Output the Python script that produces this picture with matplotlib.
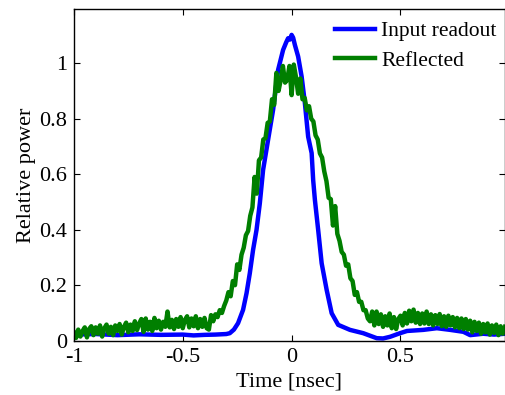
import matplotlib

matplotlib.use("Agg")
import matplotlib.pyplot as plt

# time axis [nsec] and relative power
blue_t = [-1.00, -0.90, -0.80, -0.70, -0.60, -0.50, -0.45, -0.40, -0.35, -0.30,
          -0.284, -0.265, -0.246, -0.223, -0.207, -0.192, -0.177, -0.161, -0.146, -0.131,
          -0.108, -0.085, -0.062, -0.039, -0.025, -0.016, -0.008, 0.000, 0.007, 0.015,
          0.030, 0.046, 0.061, 0.076, 0.092, 0.099, 0.107, 0.122, 0.138, 0.161,
          0.184, 0.214, 0.268, 0.329, 0.391, 0.420, 0.452, 0.498, 0.530, 0.605,
          0.667, 0.728, 0.789, 0.820, 0.880, 0.930, 0.980]
blue_p = [0.022, 0.024, 0.020, 0.023, 0.021, 0.022, 0.019, 0.021, 0.022, 0.024,
          0.027, 0.040, 0.063, 0.111, 0.171, 0.243, 0.327, 0.400, 0.495, 0.615,
          0.724, 0.832, 0.976, 1.048, 1.075, 1.090, 1.085, 1.102, 1.092, 1.066,
          1.024, 0.952, 0.856, 0.735, 0.676, 0.579, 0.507, 0.399, 0.279, 0.183,
          0.099, 0.057, 0.039, 0.027, 0.009, 0.008, 0.014, 0.027, 0.035, 0.039,
          0.045, 0.039, 0.032, 0.020, 0.025, 0.022, 0.025]

green_t = [-1.00, -0.99, -0.98, -0.97, -0.96, -0.95, -0.94, -0.93, -0.92, -0.91,
           -0.90, -0.89, -0.88, -0.87, -0.86, -0.85, -0.84, -0.83, -0.82, -0.81,
           -0.80, -0.79, -0.78, -0.77, -0.76, -0.75, -0.74, -0.73, -0.72, -0.71,
           -0.70, -0.69, -0.68, -0.67, -0.66, -0.65, -0.64, -0.63, -0.62, -0.61,
           -0.60, -0.59, -0.58, -0.57, -0.56, -0.55, -0.54, -0.53, -0.52, -0.51,
           -0.50, -0.49, -0.48, -0.47, -0.46, -0.45, -0.44, -0.43, -0.42, -0.41,
           -0.40, -0.39, -0.38, -0.37, -0.36, -0.35, -0.34, -0.33, -0.32, -0.31,
           -0.30, -0.29, -0.28, -0.27, -0.26, -0.25, -0.24, -0.23, -0.22, -0.21,
           -0.20, -0.19, -0.18, -0.17, -0.16, -0.15, -0.14, -0.13, -0.12, -0.11,
           -0.10, -0.09, -0.08, -0.07, -0.06, -0.05, -0.04, -0.03, -0.02, -0.01,
           0.00, 0.01, 0.02, 0.03, 0.04, 0.05, 0.06, 0.07, 0.08, 0.09,
           0.10, 0.11, 0.12, 0.13, 0.14, 0.15, 0.16, 0.17, 0.18, 0.19,
           0.20, 0.21, 0.22, 0.23, 0.24, 0.25, 0.26, 0.27, 0.28, 0.29,
           0.30, 0.31, 0.32, 0.33, 0.34, 0.35, 0.36, 0.37, 0.38, 0.39,
           0.40, 0.41, 0.42, 0.43, 0.44, 0.45, 0.46, 0.47, 0.48, 0.49,
           0.50, 0.51, 0.52, 0.53, 0.54, 0.55, 0.56, 0.57, 0.58, 0.59,
           0.60, 0.61, 0.62, 0.63, 0.64, 0.65, 0.66, 0.67, 0.68, 0.69,
           0.70, 0.71, 0.72, 0.73, 0.74, 0.75, 0.76, 0.77, 0.78, 0.79,
           0.80, 0.81, 0.82, 0.83, 0.84, 0.85, 0.86, 0.87, 0.88, 0.89,
           0.90, 0.91, 0.92, 0.93, 0.94, 0.95, 0.96, 0.97, 0.98]
green_p = [0.030, 0.010, 0.040, 0.015, 0.035, 0.048, 0.012, 0.042, 0.052, 0.020,
           0.048, 0.025, 0.055, 0.015, 0.045, 0.058, 0.025, 0.050, 0.020, 0.055,
           0.035, 0.060, 0.022, 0.050, 0.065, 0.030, 0.058, 0.035, 0.070, 0.038,
           0.062, 0.078, 0.032, 0.080, 0.040, 0.068, 0.035, 0.082, 0.045, 0.072,
           0.040, 0.068, 0.050, 0.105, 0.048, 0.075, 0.042, 0.078, 0.050, 0.085,
           0.045, 0.075, 0.088, 0.048, 0.080, 0.052, 0.088, 0.045, 0.078, 0.050,
           0.082, 0.045, 0.040, 0.092, 0.070, 0.095, 0.085, 0.110, 0.100, 0.125,
           0.145, 0.175, 0.160, 0.215, 0.200, 0.275, 0.255, 0.310, 0.335, 0.380,
           0.395, 0.450, 0.480, 0.590, 0.530, 0.650, 0.660, 0.725, 0.730, 0.785,
           0.790, 0.870, 0.850, 0.965, 0.900, 0.940, 0.990, 0.930, 0.940, 0.990,
           0.885, 0.995, 0.950, 0.890, 0.945, 0.870, 0.875, 0.830, 0.845, 0.800,
           0.790, 0.740, 0.725, 0.675, 0.660, 0.610, 0.575, 0.515, 0.510, 0.415,
           0.485, 0.385, 0.360, 0.320, 0.310, 0.270, 0.275, 0.225, 0.215, 0.165,
           0.175, 0.140, 0.140, 0.110, 0.110, 0.080, 0.070, 0.105, 0.055, 0.105,
           0.060, 0.095, 0.050, 0.088, 0.055, 0.098, 0.045, 0.085, 0.042, 0.078,
           0.090, 0.055, 0.100, 0.062, 0.108, 0.070, 0.112, 0.065, 0.100, 0.060,
           0.098, 0.062, 0.105, 0.060, 0.095, 0.055, 0.092, 0.060, 0.096, 0.052,
           0.088, 0.050, 0.090, 0.055, 0.085, 0.048, 0.082, 0.045, 0.080, 0.042,
           0.078, 0.040, 0.072, 0.030, 0.068, 0.035, 0.065, 0.025, 0.060, 0.030,
           0.062, 0.022, 0.055, 0.028, 0.058, 0.020, 0.052, 0.025, 0.050]

x_ticks = [-1, -0.5, 0, 0.5]
x_labels = ["-1", "-0.5", "0", "0.5"]
y_ticks = [0, 0.2, 0.4, 0.6, 0.8, 1]
y_labels = ["0", "0.2", "0.4", "0.6", "0.8", "1"]

plt.rcParams["font.family"] = ["Liberation Serif", "DejaVu Serif"]
plt.rcParams["font.size"] = 16
plt.rcParams["axes.unicode_minus"] = False

fig = plt.figure(figsize=(5.06, 3.95), dpi=100)
ax = fig.add_axes([0.146, 0.1375, 0.852, 0.8395])

ax.plot(blue_t, blue_p, color="#0000ff", lw=3.2, label="Input readout")
ax.plot(green_t, green_p, color="#007f00", lw=3.2, label="Reflected")

ax.set_xlim(-1, 0.98)
ax.set_ylim(0, 1.195)
ax.set_xticks(x_ticks)
ax.set_xticklabels(x_labels)
ax.set_yticks(y_ticks)
ax.set_yticklabels(y_labels)
ax.tick_params(direction="in", length=4, width=0.8, top=True, right=True, pad=5)
for s in ax.spines.values():
    s.set_linewidth(1.0)

ax.set_xlabel("Time [nsec]", labelpad=4)
ax.set_ylabel("Relative power", labelpad=2)

ax.legend(loc="upper right", frameon=False, handlelength=1.85, handletextpad=0.3,
          labelspacing=0.45, borderaxespad=0.0, bbox_to_anchor=(1.0, 0.99),
          fontsize=15.5)

fig.savefig("out.png", dpi=100)
